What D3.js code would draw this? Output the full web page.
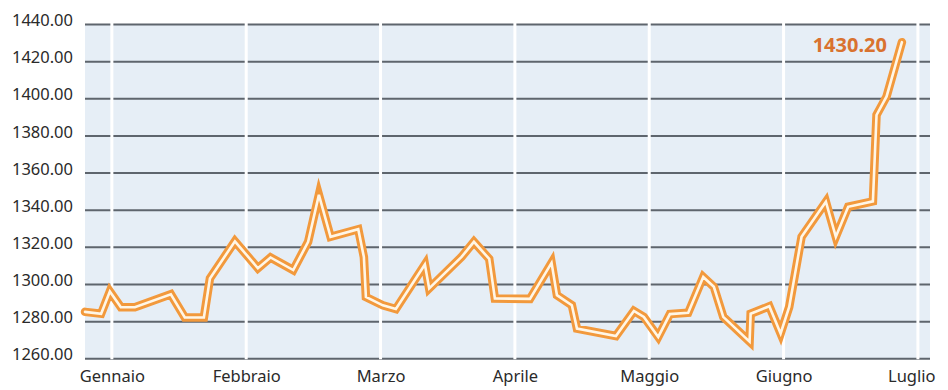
<!DOCTYPE html>
<html>
<head>
<meta charset="utf-8">
<script src="https://cdn.jsdelivr.net/npm/d3@7"></script>
<style>
  html, body { margin: 0; padding: 0; background: #ffffff; }
  svg { display: block; }
  text { font-family: "Noto Sans", "Open Sans", sans-serif; }
</style>
</head>
<body>
<svg id="chart" width="948" height="390"></svg>
<script>
// ---- data ----
const monthLabels = ["Gennaio", "Febbraio", "Marzo", "Aprile", "Maggio", "Giugno", "Luglio"];
const yTicks = [1260, 1280, 1300, 1320, 1340, 1360, 1380, 1400, 1420, 1440];
// position along the time axis, in months (0 = Gennaio)
const timePos = [-0.20, -0.08, -0.015, 0.067, 0.171, 0.439, 0.543, 0.685, 0.730, 0.916,
                 1.087, 1.181, 1.350, 1.461, 1.541, 1.628, 1.834, 1.876, 1.891, 2.017,
                 2.114, 2.330, 2.362, 2.603, 2.695, 2.809, 2.851, 3.112, 3.273, 3.313,
                 3.424, 3.462, 3.752, 3.886, 3.960, 4.067, 4.154, 4.290, 4.402, 4.481,
                 4.551, 4.747, 4.755, 4.894, 4.978, 5.042, 5.134, 5.315, 5.389, 5.481,
                 5.665, 5.692, 5.767, 5.881];
const prices  = [1285.0, 1284.0, 1296.0, 1287.5, 1287.5, 1294.5, 1282.0, 1282.0, 1303.0, 1323.0,
                 1308.5, 1314.3, 1307.5, 1322.7, 1348.0, 1325.4, 1329.5, 1314.5, 1293.0, 1288.5,
                 1286.5, 1310.5, 1297.6, 1314.6, 1322.7, 1313.5, 1292.2, 1292.0, 1311.4, 1294.0,
                 1288.6, 1276.0, 1272.0, 1285.5, 1282.3, 1271.5, 1283.8, 1284.5, 1303.8, 1298.5,
                 1282.3, 1269.0, 1284.0, 1288.0, 1273.4, 1287.7, 1325.4, 1344.3, 1325.4, 1341.6,
                 1344.5, 1391.0, 1401.0, 1430.2];

// ---- layout ----
const svg = d3.select("#chart");
const plotL = 85, plotR = 930, plotT = 24, plotB = 358.3;

const x = d3.scaleLinear().domain([-0.2, 6.09]).range([plotL, plotR]);
const y = d3.scaleLinear().domain([1260, 1440]).range([plotB, plotT]);

// background
svg.append("rect")
  .attr("x", plotL).attr("y", plotT)
  .attr("width", plotR - plotL).attr("height", plotB - plotT)
  .attr("fill", "#e6eef6");

// horizontal grid lines
const grid = svg.append("g")
  .attr("transform", `translate(${plotL},0)`)
  .call(d3.axisLeft(y).tickValues(yTicks).tickSize(-(plotR - plotL)).tickFormat(""));
grid.select(".domain").remove();
grid.selectAll("line").attr("stroke", "#5e656d").attr("stroke-width", 2);

// vertical white month lines
svg.append("g").selectAll("line")
  .data(monthLabels)
  .join("line")
  .attr("x1", (d, i) => x(i)).attr("x2", (d, i) => x(i))
  .attr("y1", plotT - 1).attr("y2", plotB + 1)
  .attr("stroke", "#ffffff").attr("stroke-width", 3);

// y-axis labels
const yAxis = svg.append("g")
  .attr("transform", `translate(${plotL},0)`)
  .call(d3.axisLeft(y).tickValues(yTicks).tickSize(0).tickPadding(12).tickFormat(d3.format(".2f")));
yAxis.select(".domain").remove();
yAxis.selectAll("text")
  .attr("font-size", "16.5px")
  .attr("font-family", "'Noto Sans', sans-serif")
  .attr("fill", "#2a2a2a")
  .attr("dy", "0.1em");

// x-axis (month) labels
const xAxis = svg.append("g")
  .attr("transform", `translate(0,${plotB})`)
  .call(d3.axisBottom(x).tickValues(d3.range(monthLabels.length)).tickSize(0).tickPadding(12)
        .tickFormat(i => monthLabels[i]));
xAxis.select(".domain").remove();
xAxis.selectAll("text")
  .attr("font-size", "16.5px")
  .attr("font-family", "'Noto Sans', sans-serif")
  .attr("fill", "#2a2a2a");
xAxis.selectAll(".tick").filter((d, i, n) => i === n.length - 1).select("text")
  .attr("text-anchor", "end").attr("x", plotR + 5 - x(monthLabels.length - 1));

// price line
const pts = timePos.map((t, i) => [t, prices[i]]);
const line = d3.line().x(d => x(d[0])).y(d => y(d[1]));
svg.append("path")
  .datum(pts)
  .attr("d", line)
  .attr("fill", "none")
  .attr("stroke", "#f2993c")
  .attr("stroke-width", 8.5)
  .attr("stroke-linejoin", "miter")
  .attr("stroke-miterlimit", 5)
  .attr("stroke-linecap", "round");
svg.append("path")
  .datum(pts)
  .attr("d", line)
  .attr("fill", "none")
  .attr("stroke", "#fff6e6")
  .attr("stroke-width", 2.6)
  .attr("stroke-linejoin", "miter")
  .attr("stroke-linecap", "round");

// last value annotation
const last = pts[pts.length - 1];
svg.append("text")
  .attr("x", x(last[0]) - 15)
  .attr("y", y(last[1]) + 10)
  .attr("text-anchor", "end")
  .attr("font-size", "20px")
  .attr("font-weight", "bold")
  .attr("font-family", "'Noto Sans', sans-serif")
  .attr("fill", "#d9722f")
  .text(d3.format(".2f")(last[1]));
</script>
</body>
</html>
